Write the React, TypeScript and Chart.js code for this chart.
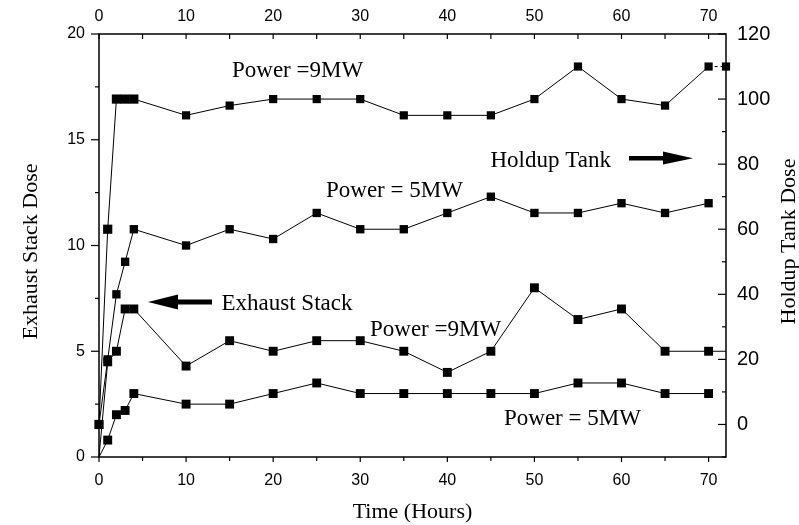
import React, { useEffect, useRef } from 'react';
import { Chart, registerables } from 'chart.js';

Chart.register(...registerables);

// ---- data ----
const hoursHoldup9 = [0, 1, 2, 3, 4, 10, 15, 20, 25, 30, 35, 40, 45, 50, 55, 60, 65, 70, 72];
const holdup9MW = [0, 60, 100, 100, 100, 95, 98, 100, 100, 100, 95, 95, 95, 100, 110, 100, 98, 110, 110];

const hoursHoldup5 = [0, 1, 2, 3, 4, 10, 15, 20, 25, 30, 35, 40, 45, 50, 55, 60, 65, 70];
const holdup5MW = [0, 20, 40, 50, 60, 55, 60, 57, 65, 60, 60, 65, 70, 65, 65, 68, 65, 68];

const hoursExhaust9 = [0, 1, 2, 3, 4, 10, 15, 20, 25, 30, 35, 40, 45, 50, 55, 60, 65, 70, 72];
const exhaust9MW = [0, 4.5, 5, 7, 7, 4.3, 5.5, 5, 5.5, 5.5, 5, 4, 5, 8, 6.5, 7, 5, 5, 5];

const hoursExhaust5 = [0, 1, 2, 3, 4, 10, 15, 20, 25, 30, 35, 40, 45, 50, 55, 60, 65, 70];
const exhaust5MW = [0, 0.8, 2, 2.2, 3, 2.5, 2.5, 3, 3.5, 3, 3, 3, 3, 3, 3.5, 3.5, 3, 3];

const timeTicks = [0, 10, 20, 30, 40, 50, 60, 70];
const exhaustTicks = [0, 5, 10, 15, 20];
const holdupTicks = [0, 20, 40, 60, 80, 100, 120];

const SANS = "'Liberation Sans', Arial, sans-serif";
const SERIF = "'Liberation Serif', 'Times New Roman', serif";

const toXY = (xs: number[], ys: number[]) => xs.map((x, i) => ({ x, y: ys[i] }));

const setTicks = (vals: number[]) => (scale: any) => {
  scale.ticks = vals.map((v) => ({ value: v }));
};

const framePlugin = {
  id: 'frameAndNotes',
  afterDraw(chart: any) {
    const { ctx, chartArea: a, scales } = chart;
    ctx.save();
    ctx.strokeStyle = '#000';
    ctx.fillStyle = '#000';
    // frame
    ctx.lineWidth = 1.5;
    ctx.strokeRect(a.left, a.top, a.right - a.left, a.bottom - a.top);

    ctx.lineWidth = 1.2;
    const line = (x1: number, y1: number, x2: number, y2: number) => {
      ctx.beginPath();
      ctx.moveTo(x1, y1);
      ctx.lineTo(x2, y2);
      ctx.stroke();
    };
    const withMinor = (vals: number[], max: number) => {
      const out: { v: number; major: boolean }[] = [];
      vals.forEach((v, i) => {
        out.push({ v, major: true });
        const step = i < vals.length - 1 ? vals[i + 1] - v : vals[1] - vals[0];
        const m = v + step / 2;
        if (m <= max) out.push({ v: m, major: false });
      });
      const m0 = vals[0] - (vals[1] - vals[0]) / 2;
      out.push({ v: m0, major: false });
      return out;
    };
    // bottom & top x ticks
    const xs = scales.x;
    withMinor(timeTicks, 72).forEach(({ v, major }) => {
      if (v < xs.min || v > xs.max) return;
      const p = xs.getPixelForValue(v);
      line(p, a.bottom, p, a.bottom + (major ? 5 : 4));
      line(p, a.top, p, a.top + 5);
    });
    // left ticks (outward)
    const yl = scales.y;
    withMinor(exhaustTicks, 20).forEach(({ v, major }) => {
      if (v < yl.min || v > yl.max) return;
      const p = yl.getPixelForValue(v);
      line(a.left - (major ? 8 : 4), p, a.left, p);
    });
    // right ticks (inward)
    const yr = scales.y2;
    withMinor(holdupTicks, 120).forEach(({ v, major }) => {
      if (v < yr.min || v > yr.max) return;
      const p = yr.getPixelForValue(v);
      line(a.right - (major ? 8 : 4), p, a.right, p);
    });

    // annotations
    ctx.font = `23px ${SERIF}`;
    ctx.textAlign = 'left';
    ctx.textBaseline = 'alphabetic';
    ctx.fillText('Power =9MW', 232, 77);
    ctx.fillText('Power = 5MW', 326, 196.5);
    ctx.fillText('Holdup Tank', 490.5, 166.5);
    ctx.fillText('Exhaust Stack', 221.5, 310);
    ctx.fillText('Power =9MW', 370, 336);
    ctx.fillText('Power = 5MW', 504, 425);

    // arrow right (Holdup Tank)
    ctx.fillRect(629, 156, 36, 4.5);
    ctx.beginPath();
    ctx.moveTo(663, 151.5);
    ctx.lineTo(693, 158.2);
    ctx.lineTo(663, 164.5);
    ctx.closePath();
    ctx.fill();
    // arrow left (Exhaust Stack)
    ctx.fillRect(176, 299.5, 36, 5);
    ctx.beginPath();
    ctx.moveTo(178, 294.5);
    ctx.lineTo(148, 302);
    ctx.lineTo(178, 309.5);
    ctx.closePath();
    ctx.fill();

    // axis titles
    ctx.font = `22px ${SERIF}`;
    ctx.textAlign = 'center';
    ctx.textBaseline = 'alphabetic';
    ctx.fillText('Time (Hours)', (a.left + a.right) / 2, 518);
    ctx.save();
    ctx.translate(36.5, 251.5);
    ctx.rotate(-Math.PI / 2);
    ctx.fillText('Exhaust Stack Dose', 0, 0);
    ctx.restore();
    ctx.save();
    ctx.translate(795, 241.5);
    ctx.rotate(-Math.PI / 2);
    ctx.fillText('Holdup Tank Dose', 0, 0);
    ctx.restore();

    ctx.restore();
  },
};

export default function App() {
  const ref = useRef<HTMLCanvasElement | null>(null);

  useEffect(() => {
    if (!ref.current) return;
    const common = {
      type: 'line' as const,
      borderColor: '#000',
      backgroundColor: '#000',
      borderWidth: 1,
      pointStyle: 'rect' as const,
      pointBorderWidth: 0,
      pointBackgroundColor: '#000',
      pointBorderColor: '#000',
      showLine: true,
      tension: 0,
      clip: false as const,
    };
    const chart = new Chart(ref.current, {
      type: 'line',
      data: {
        datasets: [
          {
            ...common,
            label: 'Holdup 9MW',
            data: toXY(hoursHoldup9, holdup9MW),
            yAxisID: 'y2',
            xAxisID: 'x',
            pointRadius: hoursHoldup9.map((h) => (h <= 4 ? 6.5 : 5.8)),
            segment: {
              borderDash: (c: any) => (c.p0DataIndex === hoursHoldup9.length - 2 ? [3, 3] : undefined),
            },
          },
          {
            ...common,
            label: 'Holdup 5MW',
            data: toXY(hoursHoldup5, holdup5MW),
            yAxisID: 'y2',
            xAxisID: 'x',
            pointRadius: 5.9,
          },
          {
            ...common,
            label: 'Exhaust 9MW',
            data: toXY(hoursExhaust9, exhaust9MW),
            yAxisID: 'y',
            xAxisID: 'x',
            pointRadius: hoursExhaust9.map((h, i) => (i === 0 || h > 70 ? 0 : 6.3)),
          },
          {
            ...common,
            label: 'Exhaust 5MW',
            data: toXY(hoursExhaust5, exhaust5MW),
            yAxisID: 'y',
            xAxisID: 'x',
            pointRadius: hoursExhaust5.map((h, i) => (i === 0 ? 0 : 6.3)),
          },
        ],
      },
      options: {
        animation: false,
        responsive: true,
        maintainAspectRatio: false,
        layout: { padding: 0 },
        plugins: {
          legend: { display: false },
          tooltip: { enabled: false },
        },
        scales: {
          x: {
            type: 'linear',
            position: 'bottom',
            min: 0,
            max: 72,
            afterBuildTicks: setTicks(timeTicks),
            afterFit: (s: any) => {
              s.height = 68;
            },
            grid: { display: false, drawTicks: false },
            border: { display: false },
            ticks: {
              padding: 14,
              autoSkip: false,
              maxRotation: 0,
              color: '#000',
              font: { family: SANS, size: 16 },
            },
          },
          x2: {
            type: 'linear',
            position: 'top',
            min: 0,
            max: 72,
            afterBuildTicks: setTicks(timeTicks),
            afterFit: (s: any) => {
              s.height = 34;
            },
            grid: { display: false, drawTicks: false },
            border: { display: false },
            ticks: {
              padding: 8,
              autoSkip: false,
              maxRotation: 0,
              color: '#000',
              font: { family: SANS, size: 16 },
            },
          },
          y: {
            type: 'linear',
            position: 'left',
            min: 0,
            max: 20,
            afterBuildTicks: setTicks(exhaustTicks),
            afterFit: (s: any) => {
              s.width = 99;
            },
            grid: { display: false, drawTicks: false },
            border: { display: false },
            ticks: {
              padding: 14,
              autoSkip: false,
              color: '#000',
              font: { family: SANS, size: 16 },
            },
          },
          y2: {
            type: 'linear',
            position: 'right',
            min: -10,
            max: 120,
            afterBuildTicks: setTicks(holdupTicks),
            afterFit: (s: any) => {
              s.width = 73;
            },
            grid: { display: false, drawTicks: false },
            border: { display: false },
            ticks: {
              padding: 11,
              autoSkip: false,
              color: '#000',
              font: { family: SANS, size: 20 },
            },
          },
        },
      },
      plugins: [framePlugin],
    } as any);
    return () => chart.destroy();
  }, []);

  return (
    <div style={{ position: 'fixed', left: 0, top: 0, width: 799, height: 525, background: '#fff' }}>
      <canvas ref={ref} />
    </div>
  );
}
